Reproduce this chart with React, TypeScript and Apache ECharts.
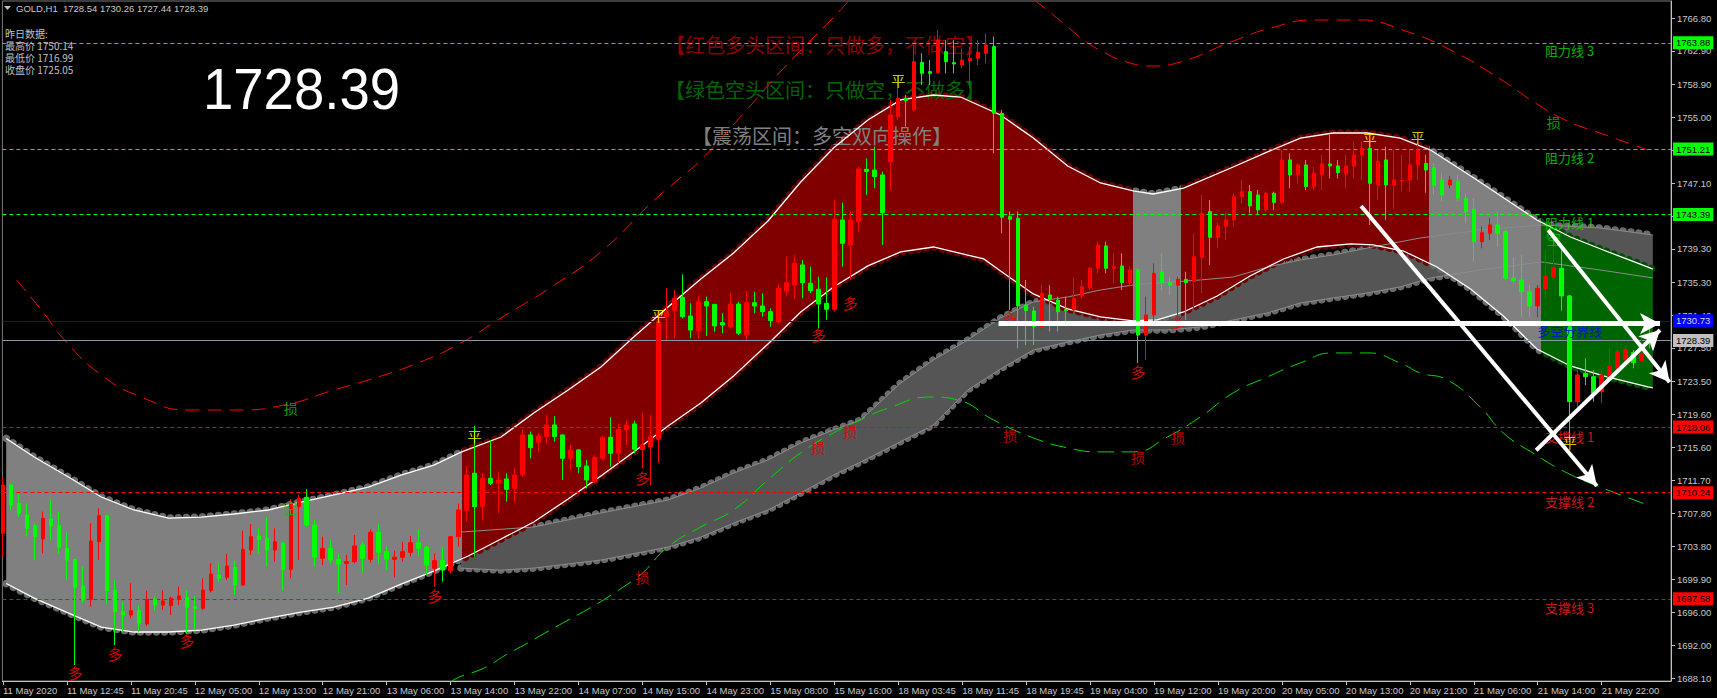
import React, { useEffect, useRef } from 'react';
import * as echarts from 'echarts';

// ---------- data ----------
// candles: [open, close, low, high], one per hourly bar (bar index = position)
const candles: number[][] = [
  [1705.39, 1711.15, 1702.6, 1712.1], [1711.15, 1708.77, 1708.17, 1711.35], [1708.96, 1707.77, 1707.37, 1710.08], [1707.57, 1705.98, 1704.99, 1708.96],
  [1706.3, 1704.99, 1702.21, 1706.58], [1704.71, 1707.18, 1703.0, 1707.97], [1707.1, 1706.3, 1704.59, 1709.44], [1706.3, 1703.72, 1703.0, 1707.97],
  [1703.6, 1702.21, 1699.82, 1705.51], [1702.29, 1698.95, 1689.69, 1702.29], [1699.1, 1697.44, 1697.04, 1701.41], [1697.52, 1704.47, 1696.64, 1706.58],
  [1704.39, 1707.49, 1702.21, 1708.37], [1707.49, 1698.55, 1697.0, 1707.6], [1698.63, 1696.05, 1692.07, 1699.82], [1696.05, 1695.65, 1693.66, 1697.24],
  [1695.65, 1696.17, 1695.25, 1699.43], [1696.17, 1694.66, 1693.66, 1696.84], [1694.58, 1697.52, 1694.34, 1698.55], [1697.52, 1696.84, 1696.17, 1697.84],
  [1696.84, 1697.32, 1696.25, 1698.63], [1696.76, 1697.64, 1695.65, 1697.84], [1697.52, 1697.92, 1696.84, 1699.03], [1697.76, 1696.56, 1693.46, 1698.63],
  [1696.64, 1696.45, 1693.86, 1697.92], [1696.45, 1698.63, 1696.25, 1700.02], [1698.55, 1700.54, 1698.31, 1701.81], [1700.42, 1700.02, 1699.62, 1701.81],
  [1700.14, 1701.49, 1699.82, 1702.92], [1701.33, 1699.23, 1698.03, 1702.13], [1699.23, 1703.48, 1699.11, 1705.71], [1703.4, 1704.99, 1702.8, 1706.5],
  [1705.07, 1704.67, 1703.0, 1705.98], [1704.79, 1703.4, 1701.49, 1707.3], [1703.4, 1704.39, 1702.01, 1705.98], [1704.19, 1701.1, 1698.63, 1704.39],
  [1701.1, 1708.96, 1700.02, 1709.44], [1708.57, 1709.56, 1702.21, 1709.96], [1709.68, 1706.38, 1706.18, 1710.63], [1706.38, 1702.53, 1701.41, 1706.98],
  [1702.41, 1703.6, 1701.61, 1704.99], [1703.6, 1702.21, 1701.81, 1704.59], [1702.29, 1701.73, 1698.23, 1703.0], [1701.81, 1702.01, 1699.23, 1702.8],
  [1702.01, 1703.88, 1701.81, 1705.19], [1704.0, 1702.41, 1700.7, 1704.39], [1702.29, 1705.51, 1701.89, 1705.87], [1705.51, 1703.12, 1701.73, 1706.5],
  [1703.2, 1702.29, 1701.02, 1703.8], [1702.29, 1702.53, 1700.14, 1703.32], [1702.53, 1703.2, 1702.01, 1704.39], [1703.12, 1704.27, 1702.61, 1705.07],
  [1704.27, 1703.6, 1702.69, 1705.87], [1703.72, 1701.61, 1700.42, 1703.88], [1701.22, 1702.13, 1699.03, 1703.0], [1702.13, 1701.02, 1699.62, 1703.72],
  [1700.94, 1704.99, 1700.62, 1705.07], [1704.99, 1708.17, 1703.8, 1708.96], [1708.09, 1712.35, 1706.78, 1713.42], [1712.55, 1708.57, 1702.61, 1718.19],
  [1708.57, 1711.95, 1706.98, 1712.55], [1711.95, 1711.35, 1711.15, 1716.52], [1711.35, 1711.75, 1707.77, 1712.75], [1711.87, 1710.63, 1709.16, 1712.55],
  [1710.75, 1712.35, 1709.16, 1713.14], [1712.35, 1717.12, 1712.15, 1717.79], [1717.12, 1715.6, 1714.33, 1717.52], [1716.24, 1717.0, 1715.13, 1717.32],
  [1716.92, 1718.31, 1716.2, 1719.5], [1718.31, 1716.92, 1716.32, 1719.38], [1717.12, 1714.33, 1711.75, 1717.2], [1714.33, 1715.33, 1712.94, 1715.92],
  [1715.33, 1713.34, 1712.55, 1715.41], [1713.42, 1711.75, 1710.75, 1714.14], [1711.55, 1714.45, 1711.35, 1714.73], [1714.33, 1716.84, 1714.14, 1717.0],
  [1716.84, 1714.93, 1713.34, 1719.22], [1714.93, 1717.79, 1713.74, 1718.43], [1717.72, 1718.31, 1715.92, 1718.9], [1718.43, 1715.41, 1714.93, 1718.82],
  [1715.41, 1715.92, 1713.14, 1719.7], [1715.72, 1716.92, 1711.15, 1719.5], [1716.6, 1730.63, 1713.74, 1731.82], [1731.22, 1731.82, 1728.44, 1734.6],
  [1731.94, 1733.41, 1728.64, 1734.4], [1733.53, 1731.22, 1731.03, 1736.27], [1731.3, 1729.63, 1728.64, 1732.81], [1729.55, 1733.01, 1728.64, 1733.69],
  [1733.01, 1732.5, 1728.92, 1733.61], [1732.69, 1730.11, 1729.44, 1732.73], [1730.51, 1730.23, 1729.24, 1731.62], [1730.03, 1732.73, 1729.83, 1734.0],
  [1732.73, 1729.24, 1729.04, 1733.01], [1729.04, 1732.89, 1728.44, 1734.28], [1732.89, 1732.5, 1731.62, 1734.2], [1732.5, 1731.82, 1731.22, 1734.0],
  [1731.82, 1730.75, 1730.03, 1732.22], [1730.63, 1734.6, 1730.43, 1735.0], [1734.28, 1735.28, 1733.61, 1738.38], [1735.0, 1737.58, 1733.41, 1738.58],
  [1737.39, 1735.28, 1733.41, 1737.98], [1735.2, 1734.32, 1734.0, 1737.19], [1734.48, 1732.73, 1729.83, 1735.99], [1732.81, 1732.1, 1730.83, 1735.91],
  [1732.1, 1742.83, 1731.82, 1745.14], [1742.75, 1739.97, 1737.19, 1744.82], [1739.77, 1742.75, 1735.6, 1743.74], [1742.55, 1748.83, 1741.36, 1749.11],
  [1748.79, 1748.52, 1745.73, 1750.1], [1748.71, 1747.92, 1746.53, 1751.5], [1748.12, 1743.63, 1739.77, 1748.52], [1749.71, 1755.27, 1746.33, 1757.06],
  [1755.07, 1757.26, 1754.68, 1760.04], [1757.26, 1756.98, 1753.88, 1757.66], [1755.87, 1761.63, 1755.67, 1763.62], [1761.55, 1760.24, 1758.85, 1762.63],
  [1760.44, 1760.24, 1758.85, 1761.83], [1760.32, 1764.22, 1760.24, 1765.41], [1762.82, 1761.63, 1760.24, 1764.22], [1761.51, 1761.35, 1760.24, 1764.22],
  [1761.23, 1761.83, 1760.84, 1763.22], [1761.75, 1762.03, 1758.45, 1763.42], [1762.03, 1762.74, 1761.23, 1764.22], [1762.62, 1763.62, 1761.43, 1765.01],
  [1763.42, 1755.47, 1750.7, 1764.61], [1755.47, 1743.07, 1741.16, 1755.87], [1743.15, 1742.83, 1732.02, 1743.75], [1742.95, 1732.5, 1727.45, 1743.75],
  [1732.62, 1731.94, 1727.85, 1735.6], [1731.9, 1730.03, 1727.85, 1732.42], [1730.03, 1734.0, 1729.64, 1735.0], [1733.81, 1733.29, 1729.44, 1735.0],
  [1733.21, 1731.82, 1729.44, 1733.61], [1732.1, 1731.94, 1730.23, 1733.61], [1732.02, 1733.41, 1731.62, 1735.8], [1733.69, 1734.8, 1733.41, 1735.6],
  [1734.68, 1736.99, 1734.4, 1737.19], [1736.99, 1739.77, 1736.39, 1740.17], [1739.65, 1736.99, 1736.39, 1740.17], [1737.0, 1737.19, 1735.2, 1738.78],
  [1737.27, 1735.28, 1734.4, 1738.78], [1735.28, 1736.79, 1734.8, 1737.19], [1736.79, 1729.04, 1725.66, 1736.99], [1729.04, 1731.42, 1726.06, 1733.61],
  [1731.42, 1736.39, 1730.03, 1737.58], [1736.59, 1735.28, 1734.4, 1738.7], [1735.28, 1735.0, 1733.81, 1735.99], [1734.96, 1735.67, 1730.83, 1735.99],
  [1735.67, 1735.28, 1730.83, 1736.59], [1735.4, 1738.38, 1732.02, 1741.16], [1738.3, 1743.55, 1734.0, 1745.73], [1743.75, 1740.68, 1737.39, 1745.14],
  [1740.68, 1742.04, 1739.37, 1742.44], [1741.96, 1742.75, 1740.37, 1743.55], [1742.75, 1745.53, 1741.96, 1745.93], [1745.53, 1746.13, 1744.74, 1747.52],
  [1746.13, 1744.42, 1743.55, 1746.92], [1745.73, 1743.94, 1743.35, 1746.33], [1744.02, 1745.93, 1743.75, 1746.13], [1745.93, 1744.82, 1743.94, 1746.13],
  [1744.82, 1749.91, 1744.66, 1751.1], [1749.91, 1748.12, 1746.53, 1750.7], [1748.12, 1749.31, 1747.12, 1749.51], [1749.31, 1746.73, 1746.33, 1749.91],
  [1746.73, 1748.32, 1746.33, 1749.11], [1748.12, 1749.43, 1746.33, 1750.5], [1749.43, 1749.19, 1747.72, 1752.89], [1749.19, 1748.39, 1747.72, 1749.91],
  [1748.24, 1749.19, 1746.53, 1750.5], [1749.19, 1750.5, 1747.72, 1752.09], [1750.5, 1751.3, 1747.52, 1752.09], [1751.3, 1747.12, 1742.16, 1752.09],
  [1746.92, 1749.71, 1745.14, 1751.1], [1749.91, 1746.92, 1742.75, 1751.5], [1746.92, 1747.52, 1744.14, 1751.1], [1747.4, 1747.45, 1746.13, 1750.5],
  [1747.52, 1749.31, 1746.13, 1751.1], [1749.31, 1751.1, 1747.52, 1751.9], [1749.5, 1748.7, 1746.0, 1750.5], [1749.0, 1746.9, 1745.8, 1749.5],
  [1747.52, 1745.73, 1745.0, 1748.3], [1746.92, 1747.52, 1746.5, 1748.0], [1747.32, 1745.33, 1745.0, 1748.1], [1745.33, 1743.74, 1742.35, 1745.93],
  [1744.02, 1740.17, 1737.78, 1745.33], [1740.17, 1741.24, 1739.37, 1741.96], [1741.16, 1742.16, 1740.37, 1742.95], [1742.16, 1741.16, 1739.57, 1743.74],
  [1741.36, 1735.8, 1735.6, 1741.56], [1735.8, 1735.52, 1735.2, 1738.3], [1735.6, 1734.2, 1731.22, 1738.58], [1734.2, 1732.5, 1731.22, 1735.0],
  [1732.5, 1734.6, 1731.14, 1735.0], [1734.56, 1736.07, 1733.41, 1739.17], [1735.91, 1737.11, 1735.6, 1740.37], [1736.99, 1733.69, 1731.94, 1739.17],
  [1733.69, 1721.09, 1716.5, 1733.81], [1721.09, 1724.27, 1720.49, 1724.86], [1724.46, 1724.07, 1723.07, 1726.25], [1724.07, 1722.08, 1721.09, 1724.86],
  [1722.28, 1724.27, 1720.89, 1724.86], [1724.07, 1725.26, 1723.99, 1727.45], [1725.06, 1727.05, 1724.86, 1727.25], [1726.05, 1727.33, 1725.86, 1727.73],
  [1726.93, 1725.74, 1725.06, 1727.25], [1725.98, 1726.85, 1725.86, 1728.7], [1728.54, 1728.39, 1727.44, 1730.26],
];

const xTickLabels = [
  '11 May 2020', '11 May 12:45', '11 May 20:45', '12 May 05:00', '12 May 13:00', '12 May 21:00', '13 May 06:00',
  '13 May 14:00', '13 May 22:00', '14 May 07:00', '14 May 15:00', '14 May 23:00', '15 May 08:00', '15 May 16:00',
  '18 May 03:45', '18 May 11:45', '18 May 19:45', '19 May 04:00', '19 May 12:00', '19 May 20:00', '20 May 05:00',
  '20 May 13:00', '20 May 21:00', '21 May 06:00', '21 May 14:00', '21 May 22:00',
];
const barsPerXLabel = 8;
const yTickValues = [
  1688.1, 1692.0, 1696.0, 1699.9, 1703.8, 1707.8, 1711.7, 1715.6, 1719.6, 1723.5, 1727.5,
  1731.4, 1735.3, 1739.3, 1743.2, 1747.1, 1751.1, 1755.0, 1758.9, 1762.9, 1766.8,
];

// main channel (bar index, price)
const mainUpper = [
  [0.4, 1716.7], [3.9, 1714.49], [8.2, 1712.1], [12.3, 1709.72], [16.4, 1708.17], [20.7, 1707.21], [24.8, 1707.33],
  [28.9, 1707.69], [33.2, 1708.17], [37.3, 1709.12], [41.4, 1709.96], [45.7, 1710.91], [49.8, 1712.34], [53.9, 1713.53],
  [57.3, 1715.08], [62.3, 1716.87], [66.4, 1719.73], [70.7, 1722.48], [74.8, 1725.22], [78.9, 1728.8], [83.2, 1732.37],
  [87.3, 1735.71], [91.4, 1738.81], [95.7, 1742.63], [99.8, 1747.28], [103.9, 1751.33], [108.2, 1754.67], [112.3, 1757.06],
  [116.4, 1757.65], [119.8, 1757.41], [124.8, 1755.27], [128.9, 1752.52], [133.2, 1749.19], [137.3, 1747.16], [141.4, 1746.21],
  [143.9, 1745.85], [147.7, 1746.56], [153.9, 1749.07], [158.2, 1750.86], [162.3, 1752.52], [166.4, 1753.12], [170.7, 1753.12],
  [174.8, 1752.52], [178.6, 1751.09], [184.4, 1747.52], [191.9, 1742.75], [196.1, 1740.72], [200.2, 1739.17], [205.8, 1737.14],
  [206.4, 1736.9],
];
const mainLower = [
  [0.4, 1699.4], [3.9, 1697.67], [8.2, 1695.88], [12.3, 1694.21], [16.4, 1693.62], [20.7, 1693.62], [24.8, 1693.85],
  [28.9, 1694.45], [33.2, 1695.29], [37.3, 1696.0], [41.4, 1696.6], [45.7, 1697.67], [49.8, 1699.34], [53.9, 1700.89],
  [58.2, 1702.68], [62.3, 1704.71], [66.4, 1706.74], [70.7, 1709.48], [74.8, 1712.22], [78.9, 1715.08], [83.2, 1718.19],
  [87.3, 1720.93], [91.4, 1724.15], [95.7, 1727.97], [99.8, 1731.78], [103.9, 1734.76], [108.2, 1737.27], [112.3, 1738.94],
  [116.4, 1739.53], [122.7, 1738.1], [124.8, 1736.67], [128.9, 1733.93], [133.2, 1732.14], [137.3, 1731.19], [141.4, 1730.71],
  [144.4, 1730.83], [147.7, 1731.78], [151.9, 1733.69], [156.0, 1736.07], [160.2, 1738.1], [164.4, 1739.53], [168.6, 1739.89],
  [171.4, 1739.77], [175.2, 1739.05], [179.4, 1737.15], [183.6, 1734.52], [187.7, 1731.3], [191.9, 1727.37], [196.1, 1725.34],
  [200.2, 1724.15], [205.8, 1722.84], [206.4, 1722.72],
];
const mainZoneBounds = [0.4, 57.4, 141.4, 147.4, 178.45, 192.4, 206.4];
const mainZoneFills = ['#808080', '#800000', '#808080', '#800000', '#808080', '#006400'];
const mainZoneDots = ['#6a6a6a', '#6c0000', '#6a6a6a', '#6c0000', '#6a6a6a', '#004f00'];

// lagging (dark) channel
const darkUpper = [
  [57.3, 1705.54], [66.4, 1706.14], [74.8, 1707.81], [83.2, 1709.36], [87.3, 1710.79], [91.4, 1712.58], [95.7, 1714.13],
  [99.8, 1716.16], [103.9, 1717.71], [107.3, 1718.9], [112.3, 1723.31], [116.4, 1726.06], [120.7, 1728.44], [124.8, 1731.07],
  [128.9, 1732.97], [133.2, 1733.57], [137.3, 1734.4], [141.4, 1735.0], [149.8, 1735.6], [153.9, 1735.95], [158.2, 1737.14],
  [162.3, 1737.98], [166.4, 1738.58], [170.7, 1739.41], [177.3, 1740.6], [184.8, 1741.56], [192.5, 1742.15], [199.8, 1741.8],
  [206.4, 1740.96],
];
const darkLower = [
  [57.3, 1701.24], [62.3, 1701.0], [66.4, 1701.24], [74.8, 1702.2], [83.2, 1703.75], [87.3, 1704.94], [91.4, 1706.61],
  [95.7, 1708.17], [99.8, 1710.2], [103.9, 1712.34], [107.3, 1713.89], [116.4, 1718.31], [120.7, 1722.48], [124.8, 1724.99],
  [128.9, 1727.25], [133.2, 1728.2], [137.3, 1729.04], [141.4, 1729.64], [145.7, 1729.64], [149.8, 1730.0], [153.9, 1730.83],
  [158.2, 1731.67], [162.3, 1732.86], [166.4, 1733.45], [170.7, 1734.05], [174.8, 1734.77], [178.6, 1735.84], [184.8, 1736.79],
  [192.5, 1737.74], [199.8, 1736.79], [206.4, 1735.84],
];

// outer envelopes
const envUpper = [
  [1.7, 1735.59], [4.8, 1732.01], [7.7, 1728.44], [12.3, 1724.27], [17.3, 1721.64], [23.2, 1720.09], [28.9, 1720.09],
  [35.2, 1720.69], [41.4, 1722.48], [45.7, 1723.67], [51.9, 1725.7], [57.3, 1728.09], [62.3, 1731.07], [68.6, 1734.76],
  [74.8, 1738.94], [81.1, 1744.78], [84.4, 1747.52], [87.3, 1749.91], [92.7, 1755.51], [97.7, 1760.88], [103.6, 1766.6],
  [108.6, 1771.4], [116.1, 1776.1], [123.6, 1772.6], [129.8, 1768.4], [132.6, 1766.24], [135.7, 1763.86], [137.7, 1762.78],
  [139.8, 1761.83], [143.6, 1761.11], [147.3, 1761.59], [153.6, 1763.97], [158.6, 1765.64], [164.1, 1766.6], [169.8, 1766.6],
  [175.1, 1765.4], [181.1, 1763.02], [187.3, 1759.56], [191.7, 1756.7], [195.7, 1754.56], [199.8, 1753.12], [205.8, 1751.09],
];
const envLower = [
  [55.9, 1687.6], [57.1, 1688.26], [60.2, 1689.33], [62.9, 1690.88], [66.3, 1692.67], [78.9, 1699.83], [83.2, 1703.77],
  [87.3, 1706.15], [91.4, 1708.18], [95.7, 1711.76], [99.8, 1714.98], [103.9, 1717.37], [107.3, 1718.92], [110.7, 1720.3],
  [116.1, 1721.64], [119.4, 1721.3], [123.9, 1718.92], [128.9, 1716.77], [133.2, 1715.58], [137.3, 1715.1], [141.4, 1715.1],
  [145.7, 1716.89], [149.8, 1719.27], [153.9, 1722.13], [158.2, 1724.04], [162.3, 1725.7], [166.4, 1726.9], [170.7, 1726.9],
  [174.8, 1725.7], [177.3, 1724.51], [180.7, 1723.67], [184.8, 1720.45], [187.7, 1717.35], [191.4, 1714.96], [195.7, 1712.58],
  [199.8, 1710.91], [205.8, 1708.76],
];

const resistance = [1763.88, 1751.21, 1743.39];
const resistanceNames = ['阻力线 3', '阻力线 2', '阻力线 1'];
const support = [1718.06, 1710.24, 1697.58];
const supportNames = ['支撑线 1', '支撑线 2', '支撑线 3'];
const pivotPrice = 1730.73;
const pivotName = '多空分界线';
const lastPrice = 1728.39;
const levelNameBar = 196;

const duoMarks = [[9, 1688.8], [14, 1691.07], [23, 1692.62], [54, 1697.98], [80, 1712.1], [102, 1729.04], [106, 1732.86], [126, 1731.07], [142, 1724.63], [147, 1730.59]];
const pingMarks = [[59, 1717.0], [82, 1731.43], [112, 1759.44], [171, 1752.4], [177, 1752.64], [196, 1716.28]];
const sunRedMarks = [[80, 1700.17], [102, 1715.68], [106, 1717.59], [126, 1717.12], [142, 1714.49], [147, 1716.88]];
const sunGreenMarks = [[36, 1720.33], [194, 1754.44]];
const kongMarks = [[36, 1708.52], [194, 1740.6]];

const arrowLines = [
  [[124.55, 1730.4], [207.3, 1730.4]],
  [[169.9, 1744.42], [199.4, 1711.03]],
  [[193.3, 1741.56], [208.5, 1723.4]],
  [[191.8, 1715.3], [207.3, 1729.63]],
];

const headerText = 'GOLD,H1  1728.54 1730.26 1727.44 1728.39';
const infoLines = ['昨日数据:', '最高价 1750.14', '最低价 1716.99', '收盘价 1725.05'];
const bigPrice = '1728.39';
const zoneTitles = ['【红色多头区间：只做多，不做空】', '【绿色空头区间：只做空，不做多】', '【震荡区间：多空双向操作】'];

// ---------- helpers ----------
const CJK = '"Noto Sans CJK SC", sans-serif';
const LAT = '"Liberation Sans", Arial, sans-serif';

function zoneGradient(api: any, bounds: number[], colors: string[]) {
  const xs = bounds.map((b) => api.coord([b, 1720])[0]);
  const x0 = xs[0];
  const x1 = xs[xs.length - 1];
  const stops: any[] = [];
  colors.forEach((c, k) => {
    stops.push({ offset: Math.min(1, Math.max(0, (xs[k] - x0) / (x1 - x0))), color: c });
    stops.push({ offset: Math.min(1, Math.max(0, (xs[k + 1] - x0) / (x1 - x0))), color: c });
  });
  return new echarts.graphic.LinearGradient(x0, 0, x1, 0, stops, true);
}

function bandRenderer(upper: number[][], lower: number[][], bounds: number[], fills: string[], dots: string[]) {
  return (_params: any, api: any) => {
    const up = upper.map((p) => api.coord(p));
    const lo = lower.map((p) => api.coord(p));
    const dotStroke = zoneGradient(api, bounds, dots);
    const dotStyle = { stroke: dotStroke, lineWidth: 7.5, lineDash: [0.01, 8], lineCap: 'round', fill: null };
    return {
      type: 'group',
      children: [
        { type: 'polyline', shape: { points: up }, style: { ...dotStyle } },
        { type: 'polyline', shape: { points: lo }, style: { ...dotStyle } },
        { type: 'polygon', shape: { points: up.concat(lo.slice().reverse()) }, style: { fill: zoneGradient(api, bounds, fills) } },
      ],
    };
  };
}

function levelLine(v: number, color: string, textColor: string, type: any) {
  return {
    yAxis: v,
    lineStyle: { color, width: 1, type },
    label: {
      show: true, position: 'end', formatter: v.toFixed(2), backgroundColor: color, color: textColor,
      padding: [2, 3, 1, 3], fontSize: 9.5, fontFamily: LAT, distance: 2,
    },
  };
}

function textMarks(name: string, marks: number[][], text: string, color: string, fontSize: number, offset: number[] = [0, 0], z = 6) {
  return {
    type: 'scatter', name, silent: true, z,
    symbol: 'circle', symbolSize: 1, itemStyle: { color: 'rgba(0,0,0,0)' },
    data: marks,
    label: { show: true, position: 'inside', formatter: () => text, color, fontSize, fontFamily: CJK, offset },
  };
}

function buildOption(): any {
  const candleData = candles.map((d, i) => [i, d[0], d[1], d[2], d[3]]);
  const xTickValues = xTickLabels.map((_, k) => k * barsPerXLabel);

  return {
    animation: false,
    backgroundColor: '#000000',
    grid: { left: 1, right: 46, top: 1, bottom: 17, show: true, borderColor: '#7a7a7a', borderWidth: 1 },
    xAxis: {
      type: 'value', min: -0.075, max: 208.675,
      axisLine: { show: true, onZero: false, lineStyle: { color: '#c0c0c0' } },
      axisTick: { show: true, length: 4, customValues: xTickValues, lineStyle: { color: '#c0c0c0' } },
      axisLabel: {
        customValues: xTickValues, formatter: (v: number) => xTickLabels[Math.round(v / barsPerXLabel)] || '',
        align: 'left', margin: 4, color: '#c8c8c8', fontSize: 9.5, fontFamily: LAT,
      },
      splitLine: { show: false },
    },
    yAxis: {
      type: 'value', position: 'right', min: 1687.78, max: 1768.86,
      axisLine: { show: true, onZero: false, lineStyle: { color: '#c0c0c0' } },
      axisTick: { show: true, length: 4, customValues: yTickValues, lineStyle: { color: '#c0c0c0' } },
      axisLabel: { customValues: yTickValues, formatter: (v: number) => v.toFixed(2), color: '#c8c8c8', fontSize: 9.5, fontFamily: LAT, margin: 6 },
      splitLine: { show: false },
    },
    series: [
      {
        type: 'custom', name: 'darkBand', silent: true, z: 1, clip: true, data: [[100, 1720]],
        renderItem: bandRenderer(darkUpper, darkLower, [57.3, 206.4], ['#555555'], ['#6a6a6a']),
      },
      {
        type: 'custom', name: 'mainBand', silent: true, z: 2, clip: true, data: [[100, 1720]],
        renderItem: bandRenderer(mainUpper, mainLower, mainZoneBounds, mainZoneFills, mainZoneDots),
      },
      {
        type: 'custom', name: 'edges', silent: true, z: 3, clip: true, data: [[100, 1720]],
        renderItem: (_p: any, api: any) => ({
          type: 'group',
          children: [
            { type: 'polyline', shape: { points: darkUpper.map((p) => api.coord(p)) }, style: { stroke: '#8c8c8c', lineWidth: 1, fill: null } },
            { type: 'polyline', shape: { points: darkLower.map((p) => api.coord(p)) }, style: { stroke: '#8c8c8c', lineWidth: 1, fill: null } },
            { type: 'polyline', shape: { points: mainUpper.map((p) => api.coord(p)) }, style: { stroke: '#ffffff', lineWidth: 1.3, fill: null } },
            { type: 'polyline', shape: { points: mainLower.map((p) => api.coord(p)) }, style: { stroke: '#ffffff', lineWidth: 1.3, fill: null } },
          ],
        }),
      },
      {
        type: 'line', name: 'envUpper', silent: true, z: 3, data: envUpper, smooth: true, showSymbol: false,
        lineStyle: { color: '#ff0000', width: 1, type: [14, 8] },
      },
      {
        type: 'line', name: 'envLower', silent: true, z: 3, data: envLower, smooth: true, showSymbol: false,
        lineStyle: { color: '#00dd00', width: 1, type: [16, 8] },
      },
      {
        type: 'line', name: 'levels', silent: true, data: [],
        markLine: {
          silent: true, symbol: 'none', z: 3.5, animation: false,
          data: [
            ...resistance.map((v) => levelLine(v, '#00ff00', '#000000', [4, 3])),
            ...support.map((v) => levelLine(v, '#ff0000', '#000000', [4, 3])),
            levelLine(pivotPrice, '#0000ff', '#d8d8d8', 'solid'),
            levelLine(lastPrice, '#c0c0c0', '#000000', 'solid'),
          ].map((d, k, arr) => (k === arr.length - 1 ? { ...d, lineStyle: { color: '#8797a8', width: 1, type: 'solid' } } : d)),
        },
      },
      {
        type: 'candlestick', name: 'GOLD', silent: true, z: 4, data: candleData,
        encode: { x: 0, y: [1, 2, 3, 4] }, barWidth: 4,
        itemStyle: { color: '#ff0000', color0: '#00ff00', borderColor: '#ff0000', borderColor0: '#00ff00', borderWidth: 1 },
      },
      ...resistance.map((v, k) => textMarks('r' + k, [[levelNameBar, v]], resistanceNames[k], '#00e000', 13, [0, 8], 5)),
      ...support.map((v, k) => textMarks('s' + k, [[levelNameBar, v]], supportNames[k], '#ff1a1a', 13, [0, 9], 5)),
      textMarks('pivotName', [[levelNameBar, pivotPrice]], pivotName, '#0000ff', 13, [0, 10], 5),
      textMarks('duo', duoMarks, '多', '#ff0000', 15),
      textMarks('ping', pingMarks, '平', '#ffff00', 14),
      textMarks('sunRed', sunRedMarks, '损', '#e00000', 14),
      textMarks('sunGreen', sunGreenMarks, '损', '#00c800', 14),
      textMarks('kong', kongMarks, '空', '#00c800', 15),
      {
        type: 'line', name: 'arrows', silent: true, data: [],
        markLine: {
          silent: true, z: 10, animation: false, symbol: ['none', 'arrow'], symbolSize: [16, 20],
          label: { show: false },
          lineStyle: { color: '#ffffff', width: 4, type: 'solid' },
          data: arrowLines.map((a, k) => [
            { coord: a[0], lineStyle: { color: '#ffffff', width: k === 0 ? 5 : 4, type: 'solid' } },
            { coord: a[1] },
          ]),
        },
      },
    ],
    graphic: [
      { type: 'polygon', z: 10, shape: { points: [[4, 6], [11, 6], [7.5, 10]] }, style: { fill: '#c0c0c0' } },
      { type: 'text', z: 10, x: 16, y: 8, style: { text: headerText, fill: '#c8c8c8', fontSize: 9.5, fontFamily: LAT, align: 'left', verticalAlign: 'middle' } },
      ...infoLines.map((t, k) => ({
        type: 'text', z: 10, x: 5, y: 33 + k * 12,
        style: { text: t, fill: '#c0c0c0', fontSize: 10, fontFamily: CJK, align: 'left', verticalAlign: 'middle' },
      })),
      { type: 'text', z: 10, x: 203, y: 89, scaleX: 0.94, style: { text: bigPrice, fill: '#ffffff', fontSize: 58, fontFamily: LAT, align: 'left', verticalAlign: 'middle' } },
      { type: 'text', z: 2.5, x: 665, y: 44, style: { text: zoneTitles[0], fill: '#8b0000', fontSize: 20, fontFamily: CJK, align: 'left', verticalAlign: 'middle' } },
      { type: 'text', z: 2.5, x: 665, y: 89, style: { text: zoneTitles[1], fill: '#006400', fontSize: 20, fontFamily: CJK, align: 'left', verticalAlign: 'middle' } },
      { type: 'text', z: 2.5, x: 692, y: 135, style: { text: zoneTitles[2], fill: '#808080', fontSize: 20, fontFamily: CJK, align: 'left', verticalAlign: 'middle' } },
    ],
  };
}

export default function App() {
  const ref = useRef<HTMLDivElement>(null);
  useEffect(() => {
    if (!ref.current) return;
    const chart = echarts.init(ref.current, null, { renderer: 'svg' });
    chart.setOption(buildOption());
    return () => chart.dispose();
  }, []);
  return <div ref={ref} style={{ position: 'fixed', left: 0, top: 0, width: 1717, height: 698, background: '#000' }} />;
}
